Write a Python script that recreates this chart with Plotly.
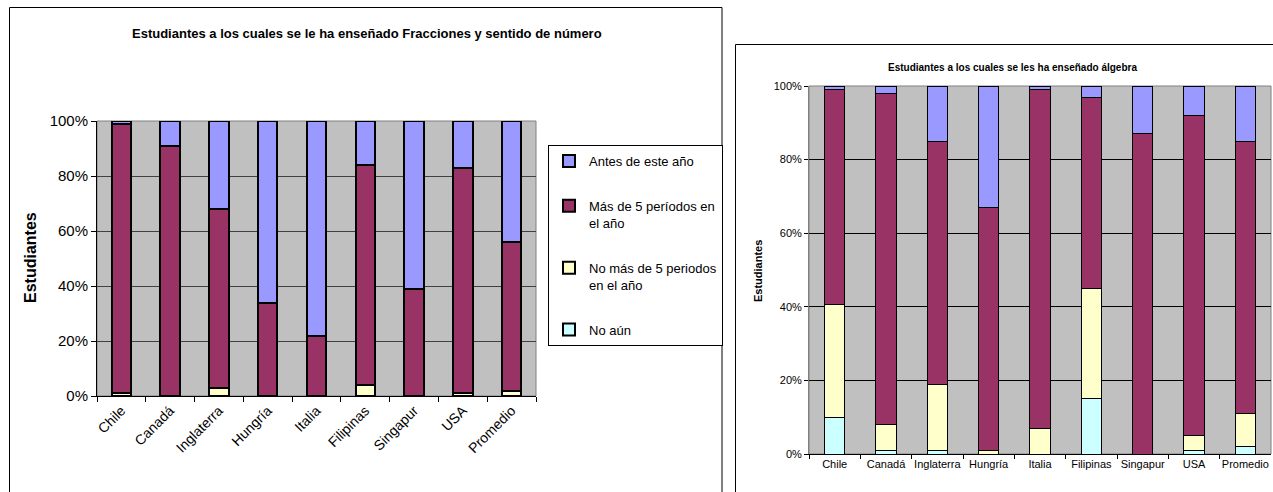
import plotly.graph_objects as go

W, H = 1273, 492

categorias_frac = ["Chile", "Canadá", "Inglaterra", "Hungría", "Italia",
                   "Filipinas", "Singapur", "USA", "Promedio"]
categorias_alg = categorias_frac

series_nombres = ["No aún", "No más de 5 periodos<br>en el año",
                  "Más de 5 períodos en<br>el año", "Antes de este año"]
series_colores = ["#CCFFFF", "#FFFFCC", "#993366", "#9999FF"]

# Fracciones y sentido de número (porcentaje de estudiantes)
frac_no_aun = [0, 0, 0, 0, 0, 0, 0, 0, 0]
frac_no_mas5 = [1, 0, 3, 0, 0, 4, 0, 1, 2]
frac_mas5 = [98, 91, 65, 34, 22, 80, 39, 82, 54]
frac_antes = [1, 9, 32, 66, 78, 16, 61, 17, 44]

# Álgebra (porcentaje de estudiantes)
alg_no_aun = [10, 1, 1, 0, 0, 15, 0, 1, 2]
alg_no_mas5 = [30.5, 7, 18, 1, 7, 30, 0, 4, 9]
alg_mas5 = [58.5, 90, 66, 66, 92, 52, 87, 87, 74]
alg_antes = [1, 2, 15, 33, 1, 3, 13, 8, 15]

y_ticks = [0, 20, 40, 60, 80, 100]
y_ticktext = ["0%", "20%", "40%", "60%", "80%", "100%"]

FONT = "Liberation Sans, Arial, sans-serif"


def px_x(v):
    return v / W


def px_y(v):
    return 1 - v / H


fig = go.Figure()

frac_series = [frac_no_aun, frac_no_mas5, frac_mas5, frac_antes]
alg_series = [alg_no_aun, alg_no_mas5, alg_mas5, alg_antes]
n_series = len(series_nombres)

for i, (nombre, color, vals) in enumerate(zip(series_nombres, series_colores, frac_series)):
    fig.add_trace(go.Bar(
        x=categorias_frac, y=vals, name=nombre, legendgroup=f"g{i}",
        legendrank=n_series - i,
        marker=dict(color=color, line=dict(color="black", width=2)),
        width=0.4, xaxis="x", yaxis="y", hoverinfo="skip",
    ))

for i, (nombre, color, vals) in enumerate(zip(series_nombres, series_colores, alg_series)):
    fig.add_trace(go.Bar(
        x=categorias_alg, y=vals, name=nombre, legendgroup=f"g{i}",
        legendrank=n_series - i,
        marker=dict(color=color, line=dict(color="black", width=1)),
        width=0.4, xaxis="x2", yaxis="y2", showlegend=False, hoverinfo="skip",
    ))

fig.update_layout(
    template="none",
    width=W, height=H,
    margin=dict(l=0, r=0, t=0, b=0, pad=0),
    paper_bgcolor="white",
    plot_bgcolor="#C0C0C0",
    barmode="stack",
    bargap=0.6,
    font=dict(family=FONT, color="black"),
    xaxis=dict(
        domain=[px_x(97), px_x(536)], anchor="y", automargin=False,
        type="category", tickson="boundaries", ticks="outside", ticklen=5,
        tickcolor="black", showgrid=False, showline=True, linecolor="black",
        linewidth=1, tickangle=-45, tickfont=dict(size=14), zeroline=False,
    ),
    yaxis=dict(
        domain=[px_y(396), px_y(121)], anchor="x", automargin=False,
        range=[0, 100], tickvals=y_ticks, ticktext=y_ticktext,
        ticks="outside", ticklen=5, tickcolor="black",
        showgrid=True, gridcolor="#404040", gridwidth=1,
        showline=True, linecolor="black", linewidth=1,
        tickfont=dict(size=15), zeroline=False,
    ),
    xaxis2=dict(
        domain=[px_x(809), px_x(1271)], anchor="y2", automargin=False,
        type="category", tickson="boundaries", ticks="outside", ticklen=4,
        tickcolor="black", showgrid=False, showline=True, linecolor="black",
        linewidth=1, tickangle=0, tickfont=dict(size=11), zeroline=False,
    ),
    yaxis2=dict(
        domain=[px_y(454), px_y(86)], anchor="x2", automargin=False,
        range=[0, 100], tickvals=y_ticks, ticktext=y_ticktext,
        ticks="outside", ticklen=4, tickcolor="black",
        showgrid=True, gridcolor="black", gridwidth=1,
        showline=True, linecolor="#808080", linewidth=1,
        tickfont=dict(size=11), zeroline=False,
    ),
    legend=dict(
        x=px_x(548), y=px_y(145), xanchor="left", yanchor="top",
        bgcolor="white", bordercolor="black", borderwidth=1,
        font=dict(size=13), traceorder="grouped", tracegroupgap=25,
        valign="top", itemclick=False, itemdoubleclick=False,
    ),
    showlegend=True,
)

shapes = [
    # marcos de cada gráfico
    dict(type="rect", xref="paper", yref="paper",
         x0=px_x(9.5), x1=px_x(722), y0=px_y(495), y1=px_y(7.5),
         line=dict(color="black", width=1), fillcolor="rgba(0,0,0,0)"),
    dict(type="rect", xref="paper", yref="paper",
         x0=px_x(735.5), x1=px_x(1280), y0=px_y(495), y1=px_y(44.5),
         line=dict(color="black", width=1), fillcolor="rgba(0,0,0,0)"),
    # borde del área de trazado
    dict(type="rect", xref="x domain", yref="y domain", x0=0, x1=1, y0=0, y1=1,
         line=dict(color="#808080", width=1), layer="below"),
    dict(type="rect", xref="x2 domain", yref="y2 domain", x0=0, x1=1, y0=0, y1=1,
         line=dict(color="#808080", width=1), layer="below"),
]
fig.update_layout(shapes=shapes)

annotations = [
    dict(text="<b>Estudiantes a los cuales se le ha enseñado Fracciones y sentido de número</b>",
         x=px_x(367), y=px_y(33), xref="paper", yref="paper",
         xanchor="center", yanchor="middle",
         showarrow=False, font=dict(size=13)),
    dict(text="<b>Estudiantes</b>", x=px_x(30), y=px_y(258), xref="paper", yref="paper",
         xanchor="center", yanchor="middle",
         showarrow=False, textangle=-90, font=dict(size=16)),
    dict(text="<b>Estudiantes a los cuales se les ha enseñado álgebra</b>",
         x=px_x(1012), y=px_y(67), xref="paper", yref="paper",
         xanchor="center", yanchor="middle",
         showarrow=False, font=dict(size=10)),
    dict(text="<b>Estudiantes</b>", x=px_x(758), y=px_y(271), xref="paper", yref="paper",
         xanchor="center", yanchor="middle",
         showarrow=False, textangle=-90, font=dict(size=11)),
]
fig.update_layout(annotations=annotations)

fig.write_html("out.html")
